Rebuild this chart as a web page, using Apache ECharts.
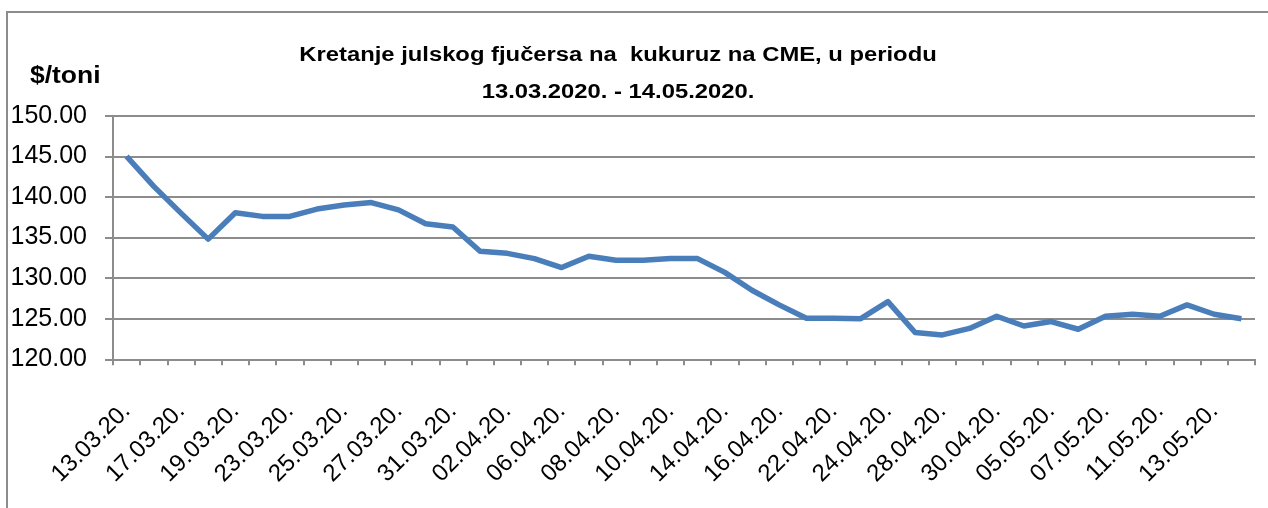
<!DOCTYPE html>
<html><head><meta charset="utf-8">
<script src="https://cdn.jsdelivr.net/npm/echarts@6/dist/echarts.min.js"></script>
<style>html,body{margin:0;padding:0;background:#fff}#c{width:1268px;height:508px}</style>
</head><body><div id="c"></div>
<script>
var categories = ["13.03.20.","16.03.20.","17.03.20.","18.03.20.","19.03.20.","20.03.20.","23.03.20.","24.03.20.","25.03.20.","26.03.20.","27.03.20.","30.03.20.","31.03.20.","01.04.20.","02.04.20.","03.04.20.","06.04.20.","07.04.20.","08.04.20.","09.04.20.","10.04.20.","13.04.20.","14.04.20.","15.04.20.","16.04.20.","21.04.20.","22.04.20.","23.04.20.","24.04.20.","27.04.20.","28.04.20.","29.04.20.","30.04.20.","04.05.20.","05.05.20.","06.05.20.","07.05.20.","08.05.20.","11.05.20.","12.05.20.","13.05.20.","14.05.20."];
var prices = [145.0,141.3,138.0,134.8,138.05,137.6,137.6,138.5,139.0,139.3,138.4,136.7,136.3,133.3,133.05,132.4,131.3,132.7,132.2,132.2,132.4,132.4,130.7,128.5,126.7,125.05,125.05,125.0,127.1,123.3,123.0,123.8,125.3,124.1,124.65,123.7,125.3,125.55,125.3,126.7,125.55,125.0];
var titleLines = ["Kretanje julskog fjučersa na  kukuruz na CME, u periodu","13.03.2020. - 14.05.2020."];
var unitLabel = "$/toni";

var chart = echarts.init(document.getElementById('c'), null, {renderer:'canvas'});
var titleFont = 'bold 20px "Liberation Sans", sans-serif';
chart.setOption({
  animation:false,
  backgroundColor:'#fff',
  graphic:[
    {type:'polyline', shape:{points:[[7,1268],[7,12],[1300,12]]}, style:{stroke:'#8c8c8c', lineWidth:2, fill:null}},
    {type:'text', x:618, y:55, scaleX:1.19, style:{text:titleLines[0], font:titleFont, fill:'#000', align:'center', verticalAlign:'middle'}},
    {type:'text', x:618, y:92, scaleX:1.19, style:{text:titleLines[1], font:titleFont, fill:'#000', align:'center', verticalAlign:'middle'}},
    {type:'text', x:30, y:77, scaleX:1.15, style:{text:unitLabel, font:'bold 23px "Liberation Sans", sans-serif', fill:'#000', align:'left', verticalAlign:'middle'}}
  ],
  grid:{left:113, right:13, top:115.7, bottom:148.7, containLabel:false},
  xAxis:{
    type:'category', data:categories, boundaryGap:true,
    axisLine:{lineStyle:{color:'#8c8c8c', width:2}},
    axisTick:{show:true, interval:0, length:6, lineStyle:{color:'#8c8c8c', width:2}},
    axisLabel:{interval:1, rotate:45, fontSize:24, fontFamily:'Liberation Sans', color:'#000', margin:48},
    splitLine:{show:false}
  },
  yAxis:{
    type:'value', min:120, max:150, interval:5,
    axisLine:{show:true, lineStyle:{color:'#8c8c8c', width:2}},
    axisTick:{show:true, length:8, lineStyle:{color:'#8c8c8c', width:2}},
    axisLabel:{fontSize:25, fontFamily:'Liberation Sans', color:'#000', margin:26, formatter:function(v){return v.toFixed(2);}},
    splitLine:{show:true, lineStyle:{color:'#8c8c8c', width:2}}
  },
  series:[{type:'line', data:prices, symbol:'none', lineStyle:{color:'#4a7ebb', width:5.5, join:'round'}, itemStyle:{color:'#4a7ebb'}}]
});
</script></body></html>
